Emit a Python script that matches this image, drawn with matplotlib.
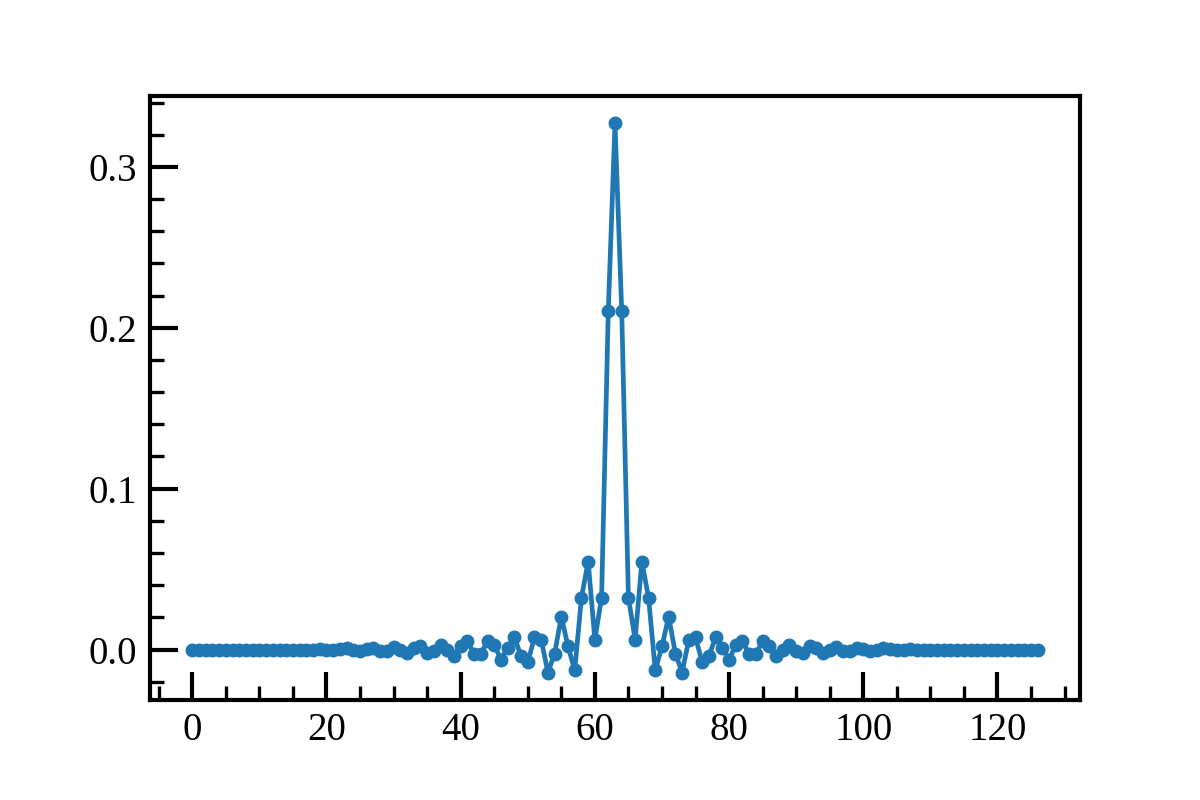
import matplotlib
matplotlib.use("Agg")
import matplotlib.pyplot as plt
from matplotlib.ticker import MultipleLocator
import numpy as np

# Half of symmetric filter taps, index 0..63 (63 = centre)
half_taps = [
    0.0, 0.0, 0.0, 0.0, 0.0, 0.0, 0.0, 0.0, 0.0, 0.0,
    0.0, 0.0, 0.0, 0.0, 0.0, 0.0, 0.0, 0.0, -0.0004, 0.0003,
    0.0, -0.0004, 0.0003, 0.0008, 0.0, -0.0006, 0.0003, 0.0008, -0.0012, -0.0006,
    0.0018, 0.0, -0.0022, 0.001, 0.0025, -0.0022, -0.0006, 0.0028, 0.0, -0.0038,
    0.002, 0.005, -0.0025, -0.0025, 0.005, 0.003, -0.0062, 0.0012, 0.008, -0.0043,
    -0.008, 0.0075, 0.0062, -0.0143, -0.0025, 0.0205, 0.002, -0.013, 0.0323, 0.0547,
    0.0062, 0.0323, 0.2106, 0.327,
]
taps = half_taps + half_taps[-2::-1]
index = list(range(len(taps)))

plt.rcParams['font.family'] = ['Liberation Serif', 'DejaVu Serif']
fig = plt.figure(figsize=(6, 4), dpi=200)
ax = fig.add_axes([0.125, 0.125, 0.775, 0.755])
ax.plot(index, taps, marker='o', color='#1f77b4', lw=1.7, markersize=4)

for s in ax.spines.values():
    s.set_linewidth(1.5)
ax.xaxis.set_minor_locator(MultipleLocator(5))
ax.yaxis.set_minor_locator(MultipleLocator(0.02))
ax.yaxis.set_major_locator(MultipleLocator(0.1))
ax.tick_params(which='major', direction='in', length=10, width=1.5, labelsize=14)
ax.tick_params(which='minor', direction='in', length=5, width=1.2)
ax.tick_params(axis='y', which='major', pad=4.5)
ax.tick_params(axis='x', which='major', pad=4.5)
fig.savefig('out.png', dpi=200)
